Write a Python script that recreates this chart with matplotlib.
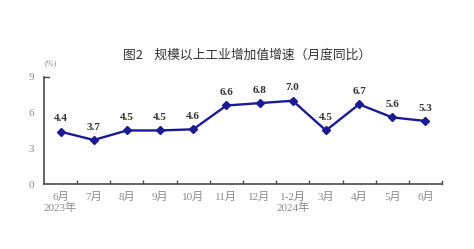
import matplotlib
matplotlib.use("Agg")
import matplotlib.pyplot as plt
import numpy as np

months = ["6月\n2023年", "7月", "8月", "9月", "10月", "11月", "12月",
          "1-2月\n2024年", "3月", "4月", "5月", "6月"]
growth = [4.4, 3.7, 4.5, 4.5, 4.6, 6.6, 6.8, 7.0, 4.5, 6.7, 5.6, 5.3]
yticks = [0, 3, 6, 9]

serif = ["Liberation Serif", "Noto Sans CJK SC"]
line_color = "#1a1a96"
gray = "#8a8a8a"

fig = plt.figure(figsize=(4.74, 2.49), dpi=100)
ax = fig.add_axes([0.0928, 0.261, 0.8397, 0.430])

x = np.arange(len(growth))
ax.plot(x, growth, color=line_color, lw=1.7, marker="D", ms=4.2,
        mfc=line_color, mec=line_color)
for xi, v in zip(x, growth):
    ax.annotate(f"{v:.1f}", (xi, v), xytext=(0, 6), textcoords="offset points",
                ha="center", va="bottom", fontsize=8, fontweight="bold",
                color="#333333", family=serif)

ax.set_xlim(-0.5, len(growth) - 0.5)
ax.set_ylim(0, 9)
ax.set_yticks(yticks)
ax.set_yticklabels([str(t) for t in yticks], family=serif, fontsize=8, color=gray)
ax.tick_params(axis="y", length=0, pad=7)

ax.set_xticks(x)
ax.set_xticklabels(months, family=serif, fontsize=8, color=gray, linespacing=1.05)
ax.tick_params(axis="x", which="major", length=0, pad=6)
ax.set_xticks(x[:-1] + 0.5, minor=True)
ax.tick_params(axis="x", which="minor", direction="in", length=3, width=1, color="#4a4a4a")
# little end tick on the right
ax.plot([len(growth) - 0.5] * 2, [0, 0.25], color="#4a4a4a", lw=1, clip_on=False)
# small inward tick at 9
ax.plot([-0.5, -0.35], [9, 9], color="#4a4a4a", lw=1, clip_on=False)

for s in ["top", "right"]:
    ax.spines[s].set_visible(False)
for s in ["left", "bottom"]:
    ax.spines[s].set_color("#4a4a4a")
    ax.spines[s].set_linewidth(1.2)

fig.text(0.521, 0.78, "图2    规模以上工业增加值增速（月度同比）", ha="center", va="center",
         fontsize=9.2, color="#333333", family=["Noto Sans CJK SC", "DejaVu Sans"])
fig.text(0.095, 0.745, "(%)", ha="left", va="center", fontsize=6, color=gray, family=serif)

fig.savefig("out.png", dpi=100)
